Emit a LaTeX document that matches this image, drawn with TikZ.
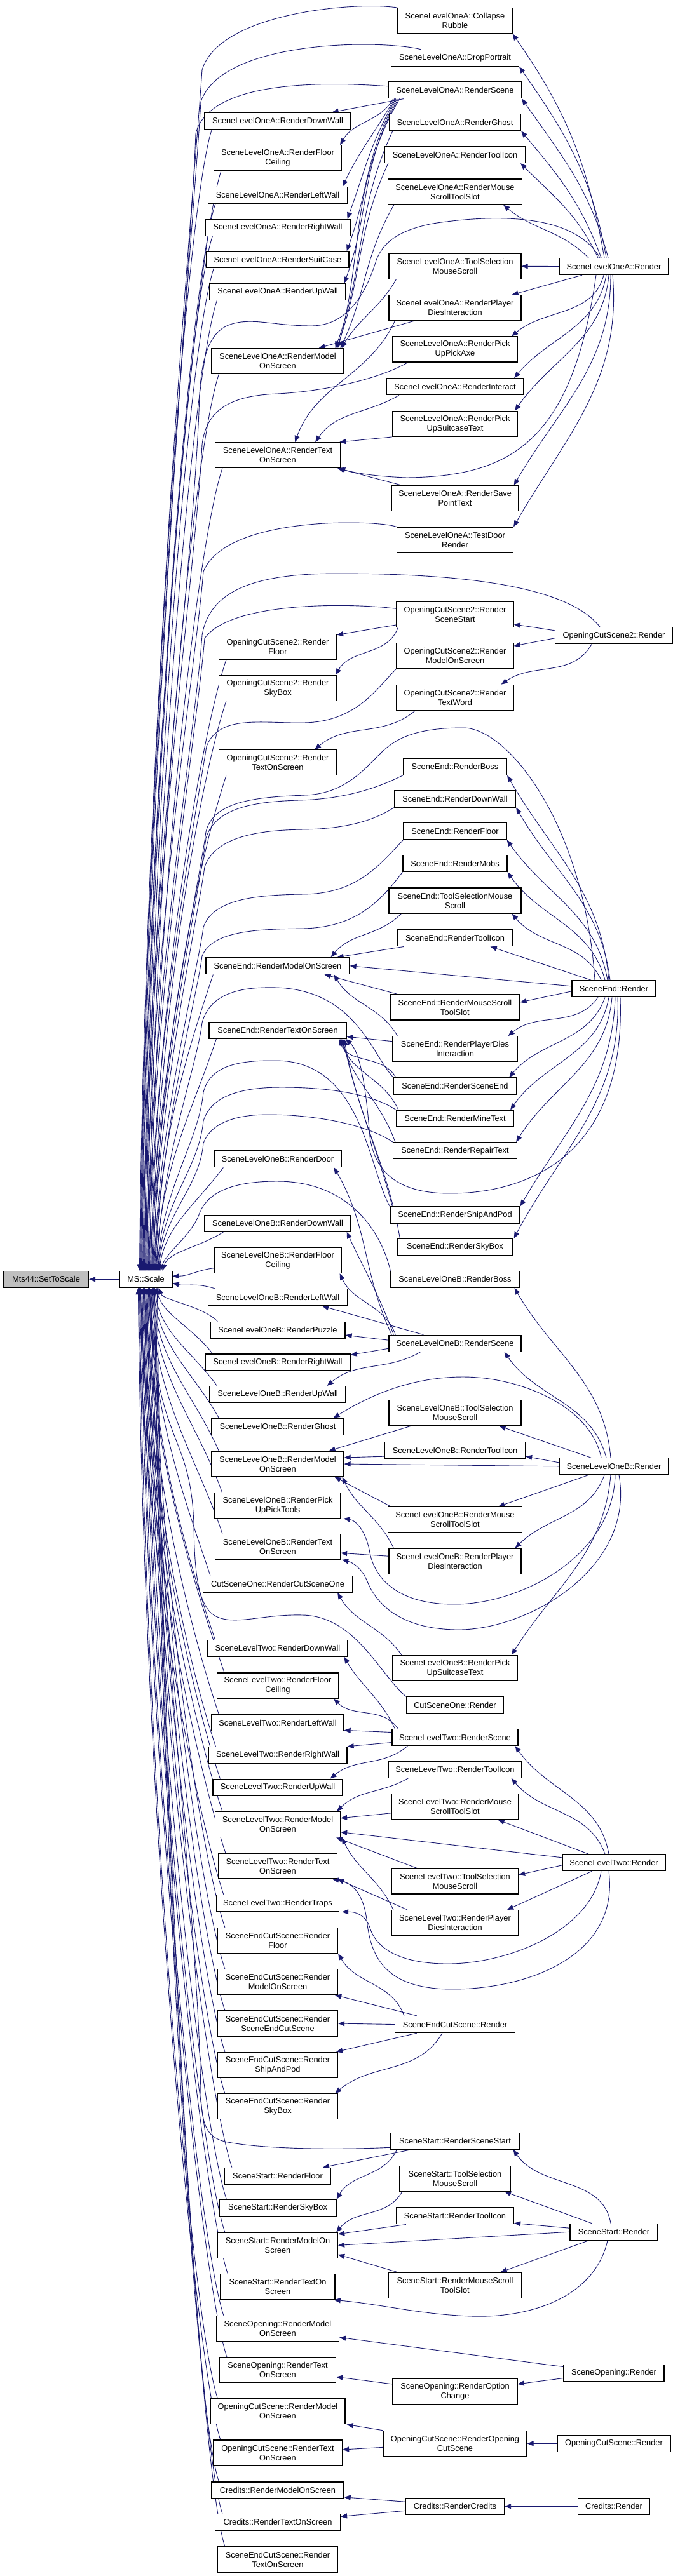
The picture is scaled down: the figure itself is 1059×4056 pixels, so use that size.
\documentclass[tikz,border=0pt]{standalone}
\usepackage{fontspec}
\setmainfont{Liberation Sans}
\usetikzlibrary{arrows.meta}
\definecolor{edgec}{HTML}{191970}
\definecolor{mtsfill}{HTML}{BFBFBF}
\pgfdeclarelayer{bg}
\pgfsetlayers{bg,main}
\tikzset{
  box/.style={draw=black, line width=1.3pt, fill=white, inner sep=0pt, align=center, font=\fontsize{12.8}{15}\selectfont, text=black},
  e/.style={draw=edgec, line width=0.9pt, -{Triangle[length=10pt,width=8pt]}},
}
\newcommand\bx[5]{\node[box, minimum width=#4pt, minimum height=26pt] (#1) at (#2,#3) {#5};}
\newcommand\bxx[5]{\node[box, minimum width=#4pt, minimum height=40pt] (#1) at (#2,#3) {#5};}
\newcommand\ua[4]{\draw[e] ([xshift=12pt]#1.south west) .. controls +(-40,#2) and +(8,-#3) .. ([xshift=#4pt]sc.north);}
\newcommand\ub[4]{\draw[e] ([xshift=12pt]#1.north west) .. controls +(-40,-#2) and +(8,#3) .. ([xshift=#4pt]sc.south);}
\begin{document}
\begin{tikzpicture}[x=1pt,y=-1pt]
\useasboundingbox (0,0) rectangle (1059,4056);
% ---------------- nodes
\node[box, fill=mtsfill, minimum width=134pt, minimum height=26pt] (mts) at (72.5,2014.3) {Mts44::SetToScale};
\bx{sc}{229.5}{2014.3}{83}{MS::Scale}
% A
\bxx{acr}{716}{32.7}{180}{SceneLevelOneA::Collapse\\Rubble}
\bx{adp}{716}{91.5}{201}{SceneLevelOneA::DropPortrait}
\bx{ars}{716}{141.8}{209}{SceneLevelOneA::RenderScene}
\bx{adw}{437}{190.3}{230}{SceneLevelOneA::RenderDownWall}
\bx{arg}{716}{192.7}{207}{SceneLevelOneA::RenderGhost}
\bxx{afc}{437}{248.7}{201}{SceneLevelOneA::RenderFloor\\Ceiling}
\bx{arti}{716}{243.5}{221}{SceneLevelOneA::RenderToolIcon}
\bx{alw}{437}{307.3}{219}{SceneLevelOneA::RenderLeftWall}
\bxx{arms}{716}{302}{211}{SceneLevelOneA::RenderMouse\\ScrollToolSlot}
\bx{arw}{437}{358.2}{228}{SceneLevelOneA::RenderRightWall}
\bx{asc}{437}{408.8}{224}{SceneLevelOneA::RenderSuitCase}
\bxx{atsm}{716}{419.3}{208}{SceneLevelOneA::ToolSelection\\MouseScroll}
\bx{ar}{966}{419.5}{172}{SceneLevelOneA::Render}
\bx{auw}{437}{459.5}{214}{SceneLevelOneA::RenderUpWall}
\bxx{apdi}{716}{484.7}{208}{SceneLevelOneA::RenderPlayer\\DiesInteraction}
\bxx{appa}{716}{550}{197}{SceneLevelOneA::RenderPick\\UpPickAxe}
\bxx{amos}{437}{568.7}{208}{SceneLevelOneA::RenderModel\\OnScreen}
\bx{ari}{716}{608.8}{215}{SceneLevelOneA::RenderInteract}
\bxx{apst}{716}{667.3}{197}{SceneLevelOneA::RenderPick\\UpSuitcaseText}
\bxx{atos}{437}{716.7}{197}{SceneLevelOneA::RenderText\\OnScreen}
\bxx{aspt}{716}{784.8}{200}{SceneLevelOneA::RenderSave\\PointText}
\bxx{atdr}{716}{850}{183}{SceneLevelOneA::TestDoor\\Render}
% B
\bxx{brss}{716}{967.3}{184}{OpeningCutScene2::Render\\SceneStart}
\bx{br}{966}{1000.8}{185}{OpeningCutScene2::Render}
\bxx{brf}{437}{1018.3}{185}{OpeningCutScene2::Render\\Floor}
\bxx{brmos}{716}{1032.7}{184}{OpeningCutScene2::Render\\ModelOnScreen}
\bxx{brsb}{437}{1083.3}{185}{OpeningCutScene2::Render\\SkyBox}
\bxx{brtw}{716}{1098.3}{184}{OpeningCutScene2::Render\\TextWord}
\bxx{brtos}{437}{1200.8}{185}{OpeningCutScene2::Render\\TextOnScreen}
% C
\bx{crb}{716}{1207.2}{163}{SceneEnd::RenderBoss}
\bx{crdw}{716}{1258}{191}{SceneEnd::RenderDownWall}
\bx{crf}{716}{1308.8}{162}{SceneEnd::RenderFloor}
\bx{crm}{716}{1359.5}{164}{SceneEnd::RenderMobs}
\bxx{ctsm}{716}{1418}{208}{SceneEnd::ToolSelectionMouse\\Scroll}
\bx{crti}{716}{1476.8}{180}{SceneEnd::RenderToolIcon}
\bx{cmos}{437}{1520.8}{226}{SceneEnd::RenderModelOnScreen}
\bx{cr}{966}{1556.8}{132}{SceneEnd::Render}
\bxx{crms}{716}{1586}{204}{SceneEnd::RenderMouseScroll\\ToolSlot}
\bx{ctos}{437}{1622.2}{216}{SceneEnd::RenderTextOnScreen}
\bxx{cpdi}{716}{1651.7}{196}{SceneEnd::RenderPlayerDies\\Interaction}
\bx{crse}{716}{1710}{193}{SceneEnd::RenderSceneEnd}
\bx{crmt}{716}{1761}{185}{SceneEnd::RenderMineText}
\bx{crrt}{716}{1811.7}{195}{SceneEnd::RenderRepairText}
\bx{csap}{716}{1913}{204}{SceneEnd::RenderShipAndPod}
\bx{crsb}{716}{1963.5}{180}{SceneEnd::RenderSkyBox}
% D
\bx{drd}{437}{1824.7}{200}{SceneLevelOneB::RenderDoor}
\bx{drdw}{437}{1926.3}{230}{SceneLevelOneB::RenderDownWall}
\bxx{dfc}{437}{1984.7}{200}{SceneLevelOneB::RenderFloor\\Ceiling}
\bx{drb}{716}{2014.3}{202}{SceneLevelOneB::RenderBoss}
\bx{dlw}{437}{2042.8}{219}{SceneLevelOneB::RenderLeftWall}
\bx{drp}{437}{2094.2}{212}{SceneLevelOneB::RenderPuzzle}
\bx{drs}{716}{2115.2}{208}{SceneLevelOneB::RenderScene}
\bx{drw}{437}{2145}{228}{SceneLevelOneB::RenderRightWall}
\bx{duw}{437}{2195.5}{214}{SceneLevelOneB::RenderUpWall}
\bxx{dtsm}{716}{2224.7}{208}{SceneLevelOneB::ToolSelection\\MouseScroll}
\bx{drg}{437}{2246.3}{208}{SceneLevelOneB::RenderGhost}
\bx{drti}{716}{2283.5}{221}{SceneLevelOneB::RenderToolIcon}
\bxx{dmos}{437}{2305}{208}{SceneLevelOneB::RenderModel\\OnScreen}
\bx{dr}{966}{2308.8}{172}{SceneLevelOneB::Render}
\bxx{dppt}{437}{2370.2}{198}{SceneLevelOneB::RenderPick\\UpPickTools}
\bxx{drms}{716}{2392.7}{211}{SceneLevelOneB::RenderMouse\\ScrollToolSlot}
\bxx{dtos}{437}{2435.3}{197}{SceneLevelOneB::RenderText\\OnScreen}
\bxx{dpdi}{716}{2458.2}{208}{SceneLevelOneB::RenderPlayer\\DiesInteraction}
\bxx{dpst}{716}{2626.3}{197}{SceneLevelOneB::RenderPick\\UpSuitcaseText}
% E
\bx{ercso}{437}{2494.2}{235}{CutSceneOne::RenderCutSceneOne}
\bx{er}{716}{2684.8}{153}{CutSceneOne::Render}
% F
\bx{fdw}{437}{2595.2}{220}{SceneLevelTwo::RenderDownWall}
\bxx{ffc}{437}{2654}{191}{SceneLevelTwo::RenderFloor\\Ceiling}
\bx{flw}{437}{2712.7}{208}{SceneLevelTwo::RenderLeftWall}
\bx{frs}{716}{2735.5}{198}{SceneLevelTwo::RenderScene}
\bx{frw}{437}{2763.5}{218}{SceneLevelTwo::RenderRightWall}
\bx{frti}{716}{2786.2}{210}{SceneLevelTwo::RenderToolIcon}
\bx{fuw}{437}{2814.2}{204}{SceneLevelTwo::RenderUpWall}
\bxx{frms}{716}{2844.8}{200}{SceneLevelTwo::RenderMouse\\ScrollToolSlot}
\bxx{fmos}{437}{2872.7}{197}{SceneLevelTwo::RenderModel\\OnScreen}
\bx{fr}{966}{2932.8}{162}{SceneLevelTwo::Render}
\bxx{ftos}{437}{2938}{187}{SceneLevelTwo::RenderText\\OnScreen}
\bxx{ftsm}{716}{2962}{199}{SceneLevelTwo::ToolSelection\\MouseScroll}
\bx{frt}{437}{2996.7}{193}{SceneLevelTwo::RenderTraps}
\bxx{fpdi}{716}{3027.5}{199}{SceneLevelTwo::RenderPlayer\\DiesInteraction}
% G
\bxx{grf}{437}{3055.3}{189}{SceneEndCutScene::Render\\Floor}
\bxx{gmos}{437}{3120.7}{189}{SceneEndCutScene::Render\\ModelOnScreen}
\bxx{grsecs}{437}{3186}{189}{SceneEndCutScene::Render\\SceneEndCutScene}
\bx{gr}{716}{3187.5}{189}{SceneEndCutScene::Render}
\bxx{gsap}{437}{3251.3}{189}{SceneEndCutScene::Render\\ShipAndPod}
\bxx{grsb}{437}{3316.7}{189}{SceneEndCutScene::Render\\SkyBox}
\bxx{gtos}{437}{4030}{189}{SceneEndCutScene::Render\\TextOnScreen}
% H
\bx{hrss}{716}{3371.2}{202}{SceneStart::RenderSceneStart}
\bx{hrf}{437}{3426.2}{167}{SceneStart::RenderFloor}
\bxx{htsm}{716}{3430.2}{175}{SceneStart::ToolSelection\\MouseScroll}
\bx{hrsb}{437}{3476.5}{184}{SceneStart::RenderSkyBox}
\bx{hrti}{716}{3488.8}{185}{SceneStart::RenderToolIcon}
\bx{hr}{966}{3514.2}{138}{SceneStart::Render}
\bxx{hmos}{437}{3535.3}{189}{SceneStart::RenderModelOn\\Screen}
\bxx{hrms}{716}{3598.2}{210}{SceneStart::RenderMouseScroll\\ToolSlot}
\bxx{htos}{437}{3600.7}{180}{SceneStart::RenderTextOn\\Screen}
% I
\bxx{imos}{437}{3666.3}{193}{SceneOpening::RenderModel\\OnScreen}
\bxx{itos}{437}{3731.5}{183}{SceneOpening::RenderText\\OnScreen}
\bx{ir}{966}{3736.5}{158}{SceneOpening::Render}
\bxx{iroc}{716}{3765.8}{196}{SceneOpening::RenderOption\\Change}
% J
\bxx{jmos}{437}{3796.8}{212}{OpeningCutScene::RenderModel\\OnScreen}
\bxx{jrocs}{716}{3847.3}{226}{OpeningCutScene::RenderOpening\\CutScene}
\bx{jr}{966}{3847.3}{178}{OpeningCutScene::Render}
\bxx{jtos}{437}{3862}{203}{OpeningCutScene::RenderText\\OnScreen}
% K
\bx{kmos}{437}{3920.8}{208}{Credits::RenderModelOnScreen}
\bx{krc}{716}{3946.2}{155}{Credits::RenderCredits}
\bx{kr}{966}{3946.2}{113}{Credits::Render}
\bx{ktos}{437}{3971.3}{197}{Credits::RenderTextOnScreen}

\begin{pgfonlayer}{bg}
\fill[white] (0,0) rectangle (1059,4056);
\draw[e] (sc.west) -- (mts.east);
% ---- col3 -> MS::Scale (above)
\ua{adw}{120}{810}{-8}
\ua{afc}{120}{780}{-6}
\ua{alw}{120}{757}{-4}
\ua{arw}{120}{734}{-2}
\ua{asc}{120}{711}{0}
\ua{auw}{120}{688}{2}
\ua{amos}{120}{636}{4}
\ua{atos}{120}{569}{6}
\ua{brf}{120}{434}{8}
\ua{brsb}{120}{404}{10}
\ua{brtos}{120}{351}{12}
\ua{cmos}{120}{211}{14}
\ua{ctos}{120}{165}{16}
\draw[e] ([xshift=15pt]drd.south west) .. controls +(-45,60) and +(10,-70) .. ([xshift=21pt]sc.north);
\draw[e] ([xshift=30pt]drdw.south west) .. controls +(-40,25) and +(10,-30) .. ([xshift=26pt]sc.north);
\draw[e] ([yshift=-12pt]dfc.west) .. controls +(-25,3) and +(25,0) .. ([yshift=5pt]sc.east);
\draw[e] ([xshift=12pt]dlw.north west) .. controls +(-30,-10) and +(20,5) .. ([yshift=-6pt]sc.east);
% ---- col3 -> MS::Scale (below)
\draw[e] ([xshift=12pt]drp.north west) .. controls +(-25,-25) and +(8,20) .. ([xshift=20pt]sc.south);
\draw[e] ([xshift=12pt]drw.north west) .. controls +(-30,-40) and +(8,40) .. ([xshift=17pt]sc.south);
\ub{duw}{55}{70}{14}
\ub{drg}{72}{93}{12}
\ub{dmos}{90}{116}{10}
\ub{dppt}{113}{145}{8}
\ub{dtos}{120}{175}{6}
\ub{ercso}{120}{204}{4}
\ub{fdw}{120}{250}{2}
\ub{ffc}{120}{273}{0}
\ub{flw}{120}{303}{-2}
\ub{frw}{120}{326}{-4}
\ub{fuw}{120}{348}{-6}
\ub{fmos}{120}{372}{-8}
\ub{ftos}{120}{401}{-10}
\ub{frt}{120}{431}{-12}
\ub{grf}{120}{454}{12}
\ub{gmos}{120}{483}{10}
\ub{grsecs}{120}{513}{8}
\ub{gsap}{120}{542}{6}
\ub{grsb}{120}{571}{4}
\ub{hrf}{120}{624}{2}
\ub{hrsb}{120}{647}{0}
\ub{hmos}{120}{670}{-2}
\ub{htos}{120}{699}{-4}
\ub{imos}{120}{729}{-6}
\ub{itos}{120}{758}{-8}
\ub{jmos}{120}{787}{-10}
\ub{jtos}{120}{817}{-12}
\ub{kmos}{120}{847}{14}
\ub{ktos}{120}{869}{16}
\ub{gtos}{120}{892}{18}
% ---- col4/col5 -> MS::Scale
\draw[e] (acr.north west) .. controls (560,2) and (345,20) .. (318,110) .. controls (305,300) and +(8,-850) .. ([xshift=-10pt]sc.north);
\draw[e] ([xshift=48pt]adp.north west) .. controls (600,62) and (350,62) .. (316,160) .. controls (306,340) and +(8,-820) .. ([xshift=-9pt]sc.north);
\draw[e] ([yshift=6pt]ars.west) .. controls (500,128) and (330,128) .. (308,210) .. controls (302,400) and +(8,-800) .. ([xshift=-7pt]sc.north);
\draw[e] ([xshift=-22pt]ar.north) .. controls (900,330) and (760,340) .. (681,352) .. controls (630,362) and (603,380) .. (592,410) .. controls (575,465) and (545,513) .. (490,513) .. controls (430,513) and (400,500) .. (365,510) .. controls (330,520) and (318,560) .. (314,620) .. controls (306,900) and +(8,-600) .. ([xshift=-5pt]sc.north);
\draw[e] ([xshift=25pt]appa.south west) .. controls (590,600) and (500,617) .. (436,620) .. controls (370,623) and (325,640) .. (318,700) .. controls (308,900) and +(8,-600) .. ([xshift=-3pt]sc.north);
\draw[e] (atdr.north west) .. controls (590,818) and (355,812) .. (320,900) .. controls (308,1050) and +(8,-520) .. ([xshift=-1pt]sc.north);
\draw[e] ([xshift=-22pt]br.north) .. controls (900,930) and (760,903) .. (531,903) .. controls (400,903) and (330,930) .. (318,1000) .. controls (308,1150) and +(8,-450) .. ([xshift=1pt]sc.north);
\draw[e] ([yshift=9pt]brss.west) .. controls (560,950) and (365,945) .. (322,1005) .. controls (310,1150) and +(8,-430) .. ([xshift=3pt]sc.north);
\draw[e] (brmos.south west) .. controls (592,1085) and (560,1137) .. (477,1138) .. controls (410,1139) and (345,1125) .. (325,1175) .. controls (312,1260) and +(8,-380) .. ([xshift=5pt]sc.north);
\draw[e] ([xshift=-30pt]cr.north) .. controls (920,1300) and (800,1146) .. (729,1146) .. controls (660,1146) and (625,1160) .. (600,1185) .. controls (570,1215) and (540,1250) .. (480,1252) .. controls (400,1255) and (335,1262) .. (324,1310) .. controls (312,1400) and +(8,-300) .. ([xshift=7pt]sc.north);
\draw[e] (crb.south west) .. controls (595,1240) and (545,1258) .. (470,1260) .. controls (400,1262) and (338,1272) .. (324,1320) .. controls (313,1410) and +(8,-290) .. ([xshift=9pt]sc.north);
\draw[e] (crdw.south west) .. controls (588,1292) and (545,1305) .. (477,1306) .. controls (405,1307) and (338,1318) .. (322,1365) .. controls (312,1440) and +(8,-270) .. ([xshift=11pt]sc.north);
\draw[e] (crf.south west) .. controls (595,1365) and (560,1407) .. (477,1408) .. controls (405,1409) and (335,1415) .. (320,1460) .. controls (311,1530) and +(8,-240) .. ([xshift=13pt]sc.north);
\draw[e] (crm.south west) .. controls (598,1420) and (560,1460) .. (477,1462) .. controls (405,1463) and (335,1465) .. (318,1505) .. controls (310,1570) and +(8,-220) .. ([xshift=15pt]sc.north);
\draw[e] (crse.north west) .. controls (585,1660) and (560,1560) .. (436,1555) .. controls (370,1553) and (330,1568) .. (318,1610) .. controls (310,1680) and +(8,-180) .. ([xshift=17pt]sc.north);
\draw[e] (csap.north west) .. controls (580,1840) and (570,1672) .. (436,1670) .. controls (370,1669) and (330,1680) .. (320,1720) .. controls (312,1800) and +(8,-130) .. ([xshift=18pt]sc.north);
\draw[e] (crmt.north west) .. controls (585,1722) and (515,1712) .. (443,1712) .. controls (380,1712) and (332,1725) .. (320,1765) .. controls (313,1840) and +(8,-110) .. ([xshift=19pt]sc.north);
\draw[e] (crrt.north west) .. controls (580,1772) and (500,1755) .. (422,1755) .. controls (370,1755) and (332,1768) .. (320,1800) .. controls (314,1870) and +(8,-90) .. ([xshift=20pt]sc.north);
\draw[e] (drb.north west) .. controls (600,1940) and (550,1860) .. (436,1860) .. controls (370,1860) and (328,1875) .. (314,1910) .. controls (302,1945) and +(10,-30) .. ([xshift=23pt]sc.north);
\draw[e] (er.north west) .. controls (600,2640) and (560,2545) .. (477,2543) .. controls (415,2541) and (370,2560) .. (340,2545) .. controls (310,2530) and (306,2470) .. (305,2400) .. controls (300,2250) and +(8,250) .. ([xshift=6pt]sc.south);
\draw[e] ([yshift=-10pt]hrss.west) .. controls (560,3384) and (420,3386) .. (354,3372) .. controls (325,3365) and (318,3345) .. (316,3300) .. controls (312,3000) and +(8,500) .. ([xshift=8pt]sc.south);
% ---- section A
\draw[e] ([xshift=-15pt]ar.north) to[out=100,in=-55] (acr.south east);
\draw[e] ([xshift=-12pt]ar.north) to[out=100,in=-55] (adp.south east);
\draw[e] ([xshift=-9pt]ar.north) to[out=105,in=-55] (ars.south east);
\draw[e] ([xshift=-20pt]ar.north) to[out=110,in=-50] (arg.south east);
\draw[e] ([xshift=-25pt]ar.north) to[out=115,in=-45] ([xshift=-8pt]arti.south east);
\draw[e] ([xshift=-40pt]ar.north) to[out=135,in=-40] ([xshift=-30pt]arms.south east);
\draw[e] (ar.west) -- (atsm.east);
\draw[e] ([xshift=-50pt]ar.south) -- ([xshift=-15pt]apdi.north east);
\draw[e] ([xshift=-16pt]ar.south) to[out=-105,in=40] ([xshift=-10pt]appa.north east);
\draw[e] ([xshift=-12pt]ar.south) to[out=-100,in=50] ([xshift=-15pt]ari.north east);
\draw[e] ([xshift=-8pt]ar.south) to[out=-95,in=55] ([xshift=-5pt]apst.north east);
\draw[e] ([xshift=-5pt]ar.south) to[out=-90,in=60] ([xshift=-8pt]aspt.north east);
\draw[e] ([xshift=-2pt]ar.south) to[out=-85,in=60] (atdr.north east);
\draw[e] ([xshift=-28pt]ar.south) .. controls (900,700) and (800,750) .. (640,752) .. controls (590,750) and (560,745) .. ([xshift=-3pt]atos.south east);
\draw[e] ([xshift=25pt]ars.south west) -- ([xshift=-30pt]adw.north east);
\draw[e] ([xshift=8pt]ars.south west) to[out=-120,in=60] ([xshift=-3pt]afc.north east);
\draw[e] ([xshift=10pt]ars.south west) to[out=-120,in=65] ([xshift=-8pt]alw.north east);
\draw[e] ([xshift=12pt]ars.south west) to[out=-120,in=70] ([xshift=-5pt]arw.north east);
\draw[e] ([xshift=14pt]ars.south west) to[out=-120,in=70] ([xshift=-4pt]asc.north east);
\draw[e] ([xshift=16pt]ars.south west) to[out=-120,in=70] ([xshift=-3pt]auw.north east);
\draw[e] ([xshift=18pt]ars.south west) to[out=-120,in=75] ([xshift=-10pt]amos.north east);
\draw[e] ([xshift=6pt]arg.south west) to[out=-115,in=70] ([xshift=-14pt]amos.north east);
\draw[e] ([xshift=6pt]arti.south west) to[out=-115,in=70] ([xshift=-12pt]amos.north east);
\draw[e] ([xshift=10pt]arms.south west) to[out=-120,in=65] ([xshift=-6pt]amos.north east);
\draw[e] ([xshift=12pt]atsm.south west) to[out=-120,in=60] ([xshift=-4pt]amos.north east);
\draw[e] ([xshift=40pt]apdi.south west) -- ([xshift=-40pt]amos.north east);
\draw[e] ([xshift=10pt]apdi.south west) to[out=-115,in=70] ([xshift=-72pt]atos.north east);
\draw[e] ([xshift=20pt]ari.south west) to[out=-150,in=55] ([xshift=-40pt]atos.north east);
\draw[e] (apst.south west) -- ([xshift=-2pt]atos.north east);
\draw[e] ([xshift=17pt]aspt.north west) -- ([xshift=-5pt]atos.south east);
% ---- section B
\draw[e] ([yshift=8pt]br.west) -- ([yshift=5pt]brss.south east);
\draw[e] ([yshift=-4pt]br.west) -- ([yshift=-5pt]brmos.north east);
\draw[e] ([xshift=-35pt]br.south) to[out=-120,in=35] ([xshift=-20pt]brtw.north east);
\draw[e] ([yshift=4pt]brss.south west) -- ([yshift=-2pt]brf.north east);
\draw[e] ([xshift=3pt]brss.south west) to[out=-110,in=60] ([xshift=-2pt]brsb.north east);
\draw[e] ([xshift=30pt]brtw.south west) to[out=-140,in=40] ([xshift=-35pt]brtos.north east);
% ---- section C
\draw[e] ([xshift=-8pt]cr.north) to[out=95,in=-60] (crb.south east);
\draw[e] ([xshift=-6pt]cr.north) to[out=97,in=-60] (crdw.south east);
\draw[e] ([xshift=-10pt]cr.north) to[out=100,in=-55] (crf.south east);
\draw[e] ([xshift=-14pt]cr.north) to[out=105,in=-55] (crm.south east);
\draw[e] ([xshift=-20pt]cr.north) to[out=115,in=-50] ([xshift=-15pt]ctsm.south east);
\draw[e] ([xshift=-36pt]cr.north) -- ([xshift=-35pt]crti.south east);
\draw[e] ([yshift=4pt]cr.west) -- (cmos.east);
\draw[e] ([yshift=-4pt]cr.west) -- ([yshift=8pt]crms.east);
\draw[e] ([xshift=-25pt]cr.south) to[out=-125,in=40] ([xshift=-15pt]cpdi.north east);
\draw[e] ([xshift=-14pt]cr.south) to[out=-110,in=50] ([xshift=-12pt]crse.north east);
\draw[e] ([xshift=-8pt]cr.south) to[out=-100,in=55] ([xshift=-6pt]crmt.north east);
\draw[e] ([xshift=-3pt]cr.south) to[out=-95,in=58] ([xshift=-2pt]crrt.north east);
\draw[e] ([xshift=2pt]cr.south) to[out=-92,in=60] (csap.north east);
\draw[e] ([xshift=6pt]cr.south) to[out=-88,in=62] ([xshift=2pt]crsb.north east);
\draw[e] ([xshift=10pt]cr.south) .. controls (985,1820) and (830,1879) .. (708,1879) .. controls (625,1879) and (590,1845) .. (582,1790) .. controls (575,1700) and (565,1655) .. ([xshift=-2pt]ctos.south east);
\draw[e] ([xshift=20pt]ctsm.south west) to[out=-135,in=50] ([xshift=-30pt]cmos.north east);
\draw[e] ([xshift=10pt]crti.south west) -- ([xshift=-20pt]cmos.north east);
\draw[e] ([xshift=12pt]crms.north west) -- ([xshift=-40pt]cmos.south east);
\draw[e] ([xshift=8pt]cpdi.north west) to[out=120,in=-60] ([xshift=-25pt]cmos.south east);
\draw[e] ([yshift=12pt]cpdi.west) -- ([yshift=-10pt]ctos.east);
\draw[e] ([xshift=4pt]crse.north west) to[out=120,in=-70] ([xshift=-12pt]ctos.south east);
\draw[e] ([xshift=4pt]crmt.north west) to[out=115,in=-72] ([xshift=-10pt]ctos.south east);
\draw[e] ([xshift=4pt]crrt.north west) to[out=110,in=-75] ([xshift=-8pt]ctos.south east);
\draw[e] ([xshift=4pt]csap.north west) to[out=105,in=-78] ([xshift=-6pt]ctos.south east);
\draw[e] ([xshift=4pt]crsb.north west) to[out=100,in=-80] ([xshift=-4pt]ctos.south east);
% ---- section D
\draw[e] ([xshift=-5pt]dr.north) to[out=95,in=-60] ([xshift=-8pt]drb.south east);
\draw[e] ([xshift=-12pt]dr.north) to[out=105,in=-55] ([xshift=-27pt]drs.south east);
\draw[e] ([xshift=-20pt]dr.north) .. controls (930,2215) and (820,2168) .. (729,2168) .. controls (650,2168) and (585,2195) .. ([xshift=-17pt]drg.north east);
\draw[e] ([xshift=-36pt]dr.north) -- ([xshift=-35pt]dtsm.south east);
\draw[e] ([yshift=6pt]dr.west) -- ([yshift=4pt]drti.south east);
\draw[e] (dr.west) -- (dmos.east);
\draw[e] ([xshift=-40pt]dr.south) -- ([xshift=-38pt]drms.north east);
\draw[e] ([xshift=-15pt]dr.south) to[out=-110,in=45] ([xshift=-10pt]dpdi.north east);
\draw[e] ([xshift=-5pt]dr.south) to[out=-95,in=58] ([xshift=-10pt]dpst.north east);
\draw[e] ([xshift=2pt]dr.south) .. controls (965,2450) and (820,2526) .. (715,2526) .. controls (625,2526) and (590,2485) .. (582,2445) .. controls (576,2410) and (560,2394) .. ([xshift=4pt]dppt.south east);
\draw[e] ([xshift=8pt]dr.south) .. controls (1000,2470) and (830,2566) .. (722,2566) .. controls (630,2566) and (592,2525) .. (578,2490) .. controls (570,2470) and (555,2460) .. ([xshift=2pt]dtos.south east);
\draw[e] ([xshift=5pt]drs.north west) to[out=115,in=-60] ([xshift=-12pt]drd.south east);
\draw[e] ([xshift=8pt]drs.north west) to[out=110,in=-65] ([xshift=-7pt]drdw.south east);
\draw[e] ([xshift=11pt]drs.north west) to[out=110,in=-65] ([xshift=-3pt]dfc.south east);
\draw[e] ([xshift=55pt]drs.north west) -- ([xshift=-40pt]dlw.south east);
\draw[e] ([yshift=5pt]drs.west) -- ([yshift=-8pt]drp.east);
\draw[e] ([yshift=-8pt]drs.west) -- ([yshift=-2pt]drw.north east);
\draw[e] ([xshift=50pt]drs.south west) to[out=-150,in=40] ([xshift=-30pt]duw.north east);
\draw[e] ([xshift=35pt]dtsm.south west) -- ([xshift=-24pt]dmos.north east);
\draw[e] ([yshift=4pt]drti.south west) -- ([yshift=10pt]dmos.east);
\draw[e] ([xshift=5pt]drms.north west) -- ([xshift=-15pt]dmos.south east);
\draw[e] ([xshift=8pt]dpdi.north west) to[out=115,in=-65] ([xshift=-3pt]dmos.south east);
\draw[e] ([yshift=8pt]dpdi.west) -- ([yshift=-10pt]dtos.east);
\draw[e] ([xshift=15pt]dpst.north west) to[out=125,in=-60] ([xshift=-24pt]ercso.south east);
% ---- section F
\draw[e] ([xshift=-8pt]fr.north) to[out=100,in=-55] ([xshift=-5pt]frs.south east);
\draw[e] ([xshift=-14pt]fr.north) to[out=110,in=-50] ([xshift=-17pt]frti.south east);
\draw[e] ([xshift=-40pt]fr.north) -- ([xshift=-33pt]frms.south east);
\draw[e] ([yshift=8pt]fr.west) -- ([yshift=-12pt]fmos.east);
\draw[e] ([yshift=-4pt]fr.west) -- ([yshift=10pt]ftsm.east);
\draw[e] ([xshift=-35pt]fr.south) -- ([xshift=-18pt]fpdi.north east);
\draw[e] ([xshift=-20pt]fr.south) .. controls (930,3040) and (800,3092) .. (705,3092) .. controls (620,3092) and (590,3062) .. (582,3035) .. controls (575,3015) and (560,3010) .. ([xshift=4pt]frt.south east);
\draw[e] ([xshift=-8pt]fr.south) .. controls (975,3080) and (830,3132) .. (712,3132) .. controls (610,3132) and (585,3085) .. (578,3030) .. controls (574,2990) and (560,2965) .. ([xshift=-8pt]ftos.south east);
\draw[e] ([xshift=5pt]frs.north west) to[out=115,in=-60] ([xshift=-6pt]fdw.south east);
\draw[e] ([xshift=10pt]frs.north west) to[out=125,in=-45] ([xshift=-8pt]ffc.south east);
\draw[e] ([yshift=8pt]frs.west) -- ([yshift=2pt]flw.south east);
\draw[e] ([yshift=-8pt]frs.west) -- (frw.north east);
\draw[e] ([xshift=25pt]frs.south west) to[out=-140,in=40] ([xshift=-20pt]fuw.north east);
\draw[e] ([xshift=32pt]frti.south west) to[out=-150,in=45] ([xshift=-6pt]fmos.north east);
\draw[e] ([yshift=-10pt]frms.west) -- ([yshift=10pt]fmos.east);
\draw[e] ([xshift=40pt]ftsm.north west) -- ([xshift=-7pt]fmos.south east);
\draw[e] ([xshift=3pt]fpdi.north west) to[out=115,in=-65] ([xshift=2pt]fmos.south east);
\draw[e] ([xshift=25pt]fpdi.north west) -- (ftos.south east);
% ---- section G
\draw[e] ([xshift=15pt]gr.north west) to[out=110,in=-60] (grf.south east);
\draw[e] ([xshift=35pt]gr.north west) -- ([xshift=-5pt]gmos.south east);
\draw[e] (gr.west) -- (grsecs.east);
\draw[e] ([xshift=35pt]gr.south west) -- ([xshift=-3pt]gsap.north east);
\draw[e] ([xshift=75pt]gr.south west) to[out=-120,in=40] ([xshift=-5pt]grsb.north east);
% ---- section H
\draw[e] ([xshift=-5pt]hr.north) to[out=100,in=-55] ([xshift=-10pt]hrss.south east);
\draw[e] ([xshift=-35pt]hr.north) -- ([xshift=-10pt]htsm.south east);
\draw[e] ([yshift=6pt]hr.west) -- ([yshift=2pt]hrti.south east);
\draw[e] (hr.west) -- (hmos.east);
\draw[e] ([xshift=-40pt]hr.south) -- ([xshift=-34pt]hrms.north east);
\draw[e] ([xshift=-10pt]hr.south) .. controls (935,3620) and (830,3650) .. (742,3647) .. controls (660,3644) and (600,3628) .. ([xshift=-2pt]htos.south east);
\draw[e] ([xshift=32pt]hrss.south west) -- ([xshift=-13pt]hrf.north east);
\draw[e] ([xshift=10pt]hrss.south west) to[out=-115,in=60] (hrsb.north east);
\draw[e] ([xshift=5pt]htsm.south west) to[out=-120,in=50] ([xshift=-3pt]hmos.north east);
\draw[e] ([xshift=16pt]hrti.south west) -- ([yshift=-3pt]hmos.north east);
\draw[e] ([xshift=15pt]hrms.north west) -- ([yshift=6pt]hmos.south east);
% ---- section I, J, K
\draw[e] ([yshift=10pt]ir.west) -- ([yshift=-14pt]imos.east);
\draw[e] ([yshift=-8pt]ir.west) -- ([yshift=12pt]iroc.east);
\draw[e] ([yshift=12pt]iroc.west) -- ([yshift=-11pt]itos.east);
\draw[e] (jr.west) -- (jrocs.east);
\draw[e] (jrocs.north west) -- ([xshift=2pt]jmos.south east);
\draw[e] ([yshift=-6pt]jrocs.west) -- ([yshift=5pt]jtos.east);
\draw[e] (kr.west) -- (krc.east);
\draw[e] ([yshift=7pt]krc.west) -- ([yshift=-11pt]kmos.east);
\draw[e] ([yshift=-7pt]krc.west) -- ([yshift=9pt]ktos.east);
\end{pgfonlayer}
\end{tikzpicture}
\end{document}
